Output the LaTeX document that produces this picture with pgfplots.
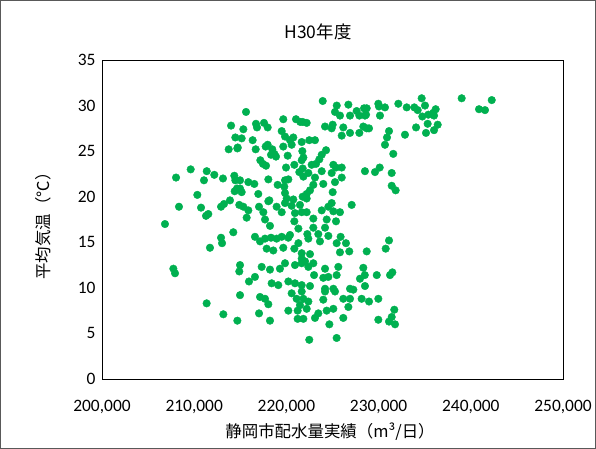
\documentclass[border=0pt]{standalone}
\usepackage{fontspec}
\setmainfont{Carlito}
\newfontfamily\cjk{Noto Sans CJK JP}
\usepackage{pgfplots}
\pgfplotsset{compat=1.18}
\usepackage{pgfplotstable}
\definecolor{ptgreen}{RGB}{0,176,80}
\pgfplotstableread{
x y
214000 27.8
214460 26.5
213740 25.2
214680 25.3
209620 23.0
208030 22.1
211360 22.8
211060 21.8
212180 22.4
213120 22.0
214350 22.3
214460 21.8
210340 20.2
214390 20.6
214640 20.9
213880 19.6
215620 29.3
216700 28.0
217570 28.1
217970 27.6
216810 27.6
219660 28.5
221040 28.5
221510 28.2
215330 27.4
215150 26.4
216340 26.2
219490 27.2
219850 26.6
220390 26.2
220750 26.5
214720 25.4
216670 25.2
217970 25.7
217750 25.5
218470 25.2
218690 24.7
219660 25.5
220570 25.7
218330 24.6
218870 24.4
220140 24.5
221730 25.0
217170 24.0
217460 23.6
217790 23.4
219960 23.2
220860 23.5
221660 24.0
221400 22.7
214970 21.8
215870 21.6
216520 21.4
218040 21.9
219850 21.8
220210 21.9
219050 21.3
219770 21.1
214970 20.9
215150 20.5
216950 20.3
219850 20.4
220030 19.8
218150 19.6
221760 20.0
223940 30.5
225460 30.0
226720 30.1
225270 29.3
225810 28.9
226900 28.9
227620 29.4
228420 29.7
227910 28.9
228520 28.9
221770 28.2
222200 28.1
224190 27.7
225020 27.9
224910 27.5
226170 27.6
226900 27.0
226000 26.7
227910 27.0
228340 27.7
228710 27.5
221660 26.0
222480 26.2
223100 26.2
224300 25.1
223830 24.6
223570 24.1
221840 24.3
223210 23.6
222740 23.5
225090 23.5
225380 23.2
226000 23.2
221770 23.1
223830 22.8
224910 22.6
228520 22.8
222380 22.6
223100 22.1
221840 22.2
226000 22.1
224000 21.4
225270 21.6
222920 21.3
222560 20.7
225020 20.5
222200 20.3
228710 29.7
228640 29.0
229970 30.2
230040 29.9
230690 29.8
230150 28.9
232140 30.2
233050 29.8
233870 29.8
234240 29.5
234670 30.8
235030 30.0
234740 28.8
235390 29.0
235930 29.2
236190 29.6
236010 28.9
235320 28.0
236410 27.9
236010 27.3
235140 27.0
234060 27.6
239010 30.8
240890 29.6
241540 29.5
242270 30.6
228960 27.5
231130 27.2
232860 26.8
230910 26.5
230690 25.7
231590 24.7
229610 22.7
230120 23.2
231420 22.6
231420 21.2
231850 20.7
208350 18.9
210740 18.8
211280 17.9
211530 18.1
212910 18.9
213230 19.2
214890 19.1
206830 17.0
214240 16.1
212910 15.5
213020 14.9
211710 14.4
207740 12.1
207920 11.6
214970 12.5
214890 11.8
218040 19.5
215330 18.9
215870 18.5
217030 18.9
217500 18.3
215690 17.7
217680 17.5
218220 16.8
218940 18.9
219850 19.3
220570 19.0
220930 18.2
220750 19.7
219490 18.3
221470 19.1
221660 18.3
220860 17.3
221300 16.5
216590 15.6
217140 15.1
217680 15.4
218330 15.5
218940 15.4
219490 15.6
220210 15.5
220390 15.8
217860 14.3
218580 14.1
219660 14.4
220860 14.3
221300 14.9
221660 13.8
217320 12.3
218220 12.0
219300 12.1
219850 12.7
220930 12.5
221660 12.7
216590 11.2
215940 10.7
218400 10.5
219120 10.3
220210 10.7
220930 10.5
221660 10.3
222200 19.8
222200 18.3
223830 18.5
224550 18.9
224910 19.3
225090 18.4
225810 18.3
227080 19.1
222920 17.6
224370 17.5
225380 17.3
222920 16.6
224190 16.6
222270 15.9
223460 15.9
224550 15.7
222380 15.4
223640 15.1
225880 15.6
225450 14.9
226460 14.9
225810 13.9
226820 14.0
228710 14.0
221660 13.2
222560 13.7
222020 12.9
222920 12.7
222380 12.3
224190 12.1
225630 12.3
228340 12.2
223000 11.4
224000 11.1
224550 11.2
225450 11.4
227980 11.0
228500 11.4
222560 10.2
224190 9.9
225090 9.9
226900 9.9
228520 10.2
231130 15.2
230770 14.3
229800 11.4
231240 11.4
231490 11.7
211350 8.3
213160 7.1
214680 6.4
214970 9.2
217140 9.0
217680 8.8
218040 8.2
220570 9.4
221110 8.8
221660 9.6
221470 8.1
217030 7.2
218220 6.4
220210 7.5
221220 7.5
221220 6.6
221840 6.6
221840 8.8
222380 8.5
224190 9.6
224000 8.7
225270 9.6
226170 8.8
226900 8.8
227260 9.8
228160 8.8
226720 7.9
222200 7.7
223100 6.7
223460 7.2
224370 7.5
225090 7.7
226170 6.7
224660 6.0
222480 4.3
225450 4.5
228960 8.5
229970 8.8
231700 7.6
231420 6.8
231780 6.0
229970 6.5
231130 6.3
}\datatable
\begin{document}
\begin{tikzpicture}[x=1bp,y=1bp]
\path[use as bounding box] (0,0) rectangle (596,449);
\draw[black!65, line width=0.8bp] (0.4,0.4) rectangle (595.6,448.6);
\begin{axis}[
  at={(102bp,70bp)}, anchor=south west,
  scale only axis, width=461bp, height=319bp,
  xmin=200000, xmax=250000, ymin=0, ymax=35,
  xtick={200000,210000,220000,230000,240000,250000},
  ytick={0,5,10,15,20,25,30,35},
  scaled x ticks=false,
  /pgf/number format/assume math mode=true,
  /pgf/number format/.cd, fixed, precision=0, 1000 sep={,},
  /pgfplots/.cd,
  major tick length=0pt,
  axis line style={black, line width=0.6bp},
  tick label style={font=\fontsize{17.5}{20}\selectfont},
  xticklabel style={yshift=-18bp},
  yticklabel style={xshift=-3bp},
  clip=false,
]
\addplot[only marks, mark=*, mark size=3.8bp, draw=ptgreen, fill=ptgreen] table[x=x,y=y] {\datatable};
\end{axis}
\node[font=\cjk\fontsize{17.5}{20}\selectfont] at (318,417) {H30年度};
\node[font=\cjk\fontsize{16.5}{19}\selectfont] at (330,17) {静岡市配水量実績（m³/日）};
\node[font=\cjk\fontsize{16.5}{19}\selectfont, rotate=90] at (43,227) {平均気温（℃）};
\end{tikzpicture}
\end{document}
